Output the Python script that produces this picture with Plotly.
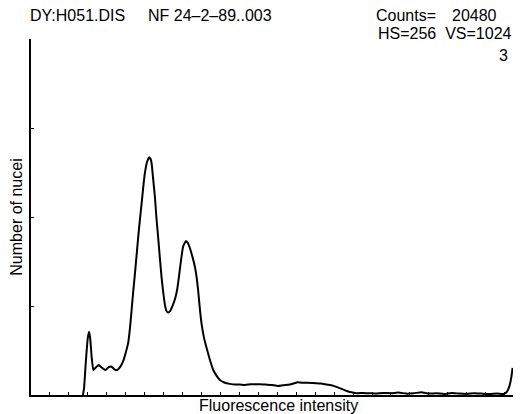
import plotly.graph_objects as go

# Histogram trace (channel, number of nuclei)
channel = [27.4, 28.0, 29.0, 30.0, 30.7, 31.3, 32.0, 32.9, 34.0, 35.7, 37.5, 39.3, 41.0, 42.4,
           44.0, 45.5, 47.0, 48.7, 50.1, 51.3, 52.2, 53.1, 54.0, 54.9, 55.7, 56.6, 57.5, 58.4,
           59.2, 60.1, 61.3, 62.4, 63.2, 63.7, 64.5, 65.4, 66.2, 67.1, 68.0, 68.9, 69.8, 70.7,
           71.5, 72.4, 73.5, 75.1, 76.2, 77.2, 78.2, 79.0, 80.3, 81.8, 82.8, 83.9, 85.2, 86.5,
           87.4, 88.2, 89.1, 90.0, 91.3, 92.7, 94.5, 96.2, 98.0, 99.7, 102.0, 105.0, 108.0,
           110.2, 113, 116, 120.8, 124, 127, 130.3, 133, 136.6, 139, 140.8, 143, 146, 150.7,
           153, 156, 159.3, 162, 164.6, 167, 169.8, 172, 175, 178.8, 182, 186, 190, 194, 198,
           202, 206, 210, 214, 218, 222, 226, 230, 234, 238, 242, 246, 249.5, 251, 252.5,
           253.5, 254.2]
counts = [0, 20, 100, 165, 182, 160, 110, 72, 78, 86, 78, 72, 80, 82,
          74, 72, 80, 98, 124, 150, 190, 244, 300, 351, 400, 455, 505, 552,
          595, 638, 671, 684, 678, 665, 620, 570, 510, 455, 395, 340, 295, 259,
          242, 237, 242, 262, 280, 305, 345, 380, 427, 443, 437, 422, 398, 369,
          340, 302, 250, 206, 165, 135, 100, 72, 55, 43, 36, 32, 30,
          30, 29, 31, 31, 30, 29, 26, 28, 30, 34, 37, 35, 35, 34,
          33, 30, 27, 22, 16, 11, 7, 5, 6, 5, 4, 6, 5, 7, 4,
          5, 8, 4, 5, 3, 6, 4, 3, 5, 4, 3, 4, 3, 8, 25,
          50, 78]

x_ticks = list(range(10, 251, 10))
y_ticks = [256, 512, 768, 1024]

OFF = 8  # default page margin of the html body
W, H = 521 - OFF, 414 - OFF
L, R, T, B = 31 - OFF, 5, 39 - OFF, 19
pw, ph = W - L - R, H - T - B

def px(x):
    return (x - OFF - L) / pw

def py(y):
    return (H - B - (y - OFF)) / ph

fig = go.Figure()
fig.add_trace(go.Scatter(x=channel, y=counts, mode="lines",
                         line=dict(color="black", width=2, shape="spline", smoothing=0.4),
                         hoverinfo="skip", showlegend=False))

font = dict(family="Liberation Sans, Arial, sans-serif", size=16, color="black")

fig.update_layout(
    width=W, height=H, margin=dict(l=L, r=R, t=T, b=B),
    plot_bgcolor="white", paper_bgcolor="white", font=font,
    xaxis=dict(range=[0, 256], showgrid=False, zeroline=False, showline=True,
               linecolor="black", linewidth=1.5, ticks="inside", ticklen=3,
               tickcolor="black", tickvals=x_ticks, showticklabels=False),
    yaxis=dict(range=[0, 1024], showgrid=False, zeroline=False, showline=True,
               linecolor="black", linewidth=1.5, ticks="inside", ticklen=3,
               tickcolor="black", tickvals=y_ticks, showticklabels=False,
               title=dict(text="Number of nucei", standoff=4, font=font)),
)

ann = [
    ("DY:H051.DIS", 28, 15, "left"),
    ("NF 24\u20132\u201389..003", 146, 15, "left"),
    ("Counts=", 374, 15, "left"),
    ("20480", 499, 15, "right"),
    ("HS=256  VS=1024", 514, 33, "right"),
    ("3", 510, 56, "right"),
    ("Fluorescence intensity", 278, 405, "center"),
]
for text, x, y, anchor in ann:
    fig.add_annotation(text=text, xref="paper", yref="paper", x=px(x), y=py(y),
                       xanchor=anchor, yanchor="middle", showarrow=False, font=font)

fig.write_html("out.html")
